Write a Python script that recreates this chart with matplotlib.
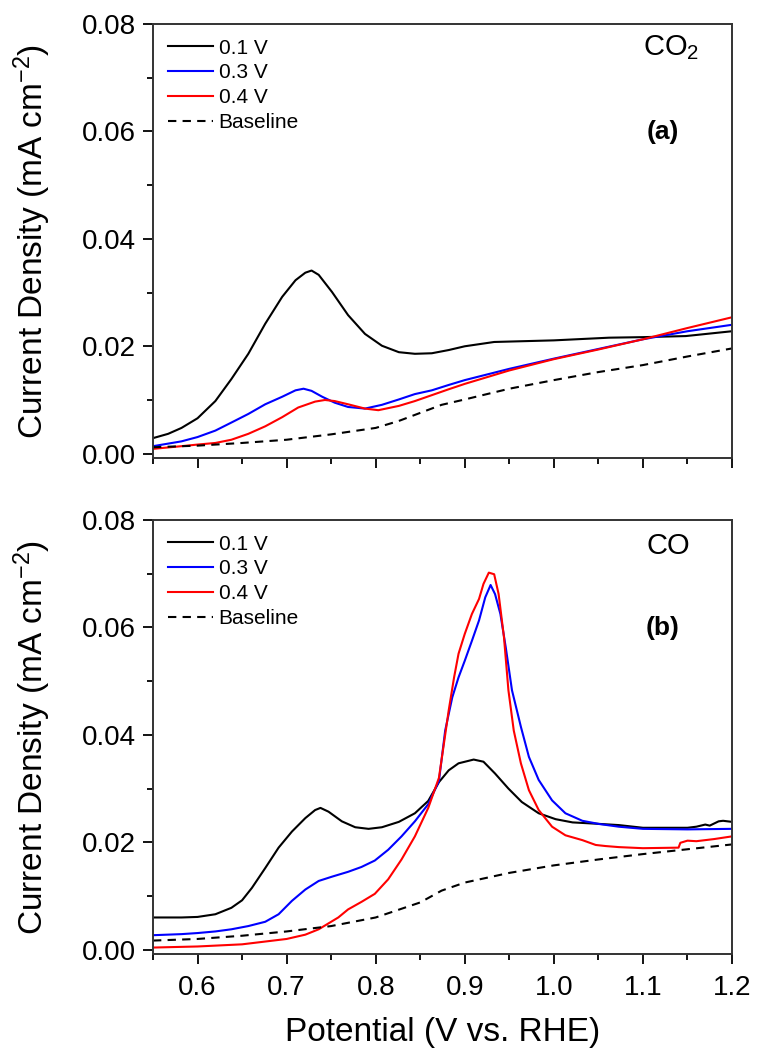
import matplotlib.pyplot as plt
from matplotlib.ticker import MultipleLocator

plt.rcParams['font.family'] = ['Liberation Sans', 'DejaVu Sans']
plt.rcParams['mathtext.default'] = 'regular'

# -----------------------------
# Panel (a): CO2
# -----------------------------
a_x01 = [0.55, 0.567, 0.582, 0.60, 0.62, 0.638, 0.657, 0.676, 0.695, 0.71, 0.721, 0.728,
         0.736, 0.751, 0.769, 0.788, 0.807, 0.826, 0.844, 0.863, 0.882, 0.90, 0.933,
         0.955, 1.00, 1.062, 1.10, 1.148, 1.20]
a_y01 = [0.0029, 0.0037, 0.0048, 0.0066, 0.0098, 0.0139, 0.0186, 0.0242, 0.0292, 0.0323,
         0.0337, 0.0341, 0.0333, 0.0301, 0.0258, 0.0223, 0.0201, 0.0189, 0.0186, 0.0187,
         0.0193, 0.0200, 0.0208, 0.0209, 0.0211, 0.0216, 0.0217, 0.0219, 0.0228]

a_x03 = [0.55, 0.582, 0.60, 0.62, 0.638, 0.657, 0.676, 0.695, 0.71, 0.719, 0.728, 0.74,
         0.754, 0.769, 0.788, 0.807, 0.826, 0.844, 0.863, 0.882, 0.90, 0.95, 1.00, 1.05,
         1.10, 1.15, 1.20]
a_y03 = [0.0014, 0.0023, 0.0031, 0.0043, 0.0058, 0.0074, 0.0092, 0.0106, 0.0118, 0.0121,
         0.0117, 0.0106, 0.0095, 0.0087, 0.0084, 0.0091, 0.0101, 0.0111, 0.0118, 0.0128,
         0.0137, 0.0158, 0.0177, 0.0195, 0.0213, 0.0228, 0.0240]

a_x04 = [0.55, 0.582, 0.60, 0.62, 0.638, 0.657, 0.676, 0.695, 0.713, 0.732, 0.743, 0.754,
         0.769, 0.788, 0.803, 0.826, 0.844, 0.863, 0.882, 0.90, 0.95, 1.00, 1.05, 1.10,
         1.15, 1.20]
a_y04 = [0.0009, 0.0014, 0.0017, 0.0020, 0.0026, 0.0037, 0.0051, 0.0068, 0.0086, 0.0097,
         0.0100, 0.0098, 0.0092, 0.0084, 0.0081, 0.0089, 0.0098, 0.0109, 0.0120, 0.0130,
         0.0155, 0.0176, 0.0194, 0.0213, 0.0234, 0.0254]

a_xb = [0.55, 0.60, 0.65, 0.70, 0.75, 0.80, 0.826, 0.85, 0.874, 0.90, 0.95, 1.00, 1.05,
        1.10, 1.15, 1.20]
a_yb = [0.0012, 0.0015, 0.0020, 0.0026, 0.0036, 0.0048, 0.0061, 0.0076, 0.0091, 0.0101,
        0.0121, 0.0137, 0.0152, 0.0165, 0.0181, 0.0196]

# -----------------------------
# Panel (b): CO
# -----------------------------
b_x01 = [0.55, 0.582, 0.60, 0.62, 0.638, 0.65, 0.661, 0.676, 0.691, 0.706, 0.721, 0.732,
         0.738, 0.747, 0.762, 0.777, 0.792, 0.807, 0.826, 0.844, 0.859, 0.871, 0.882,
         0.893, 0.91, 0.921, 0.934, 0.949, 0.964, 0.983, 1.002, 1.021, 1.043, 1.073,
         1.10, 1.15, 1.16, 1.17, 1.175, 1.185, 1.19, 1.20]
b_y01 = [0.0060, 0.0060, 0.0061, 0.0066, 0.0078, 0.0092, 0.0115, 0.0152, 0.0190, 0.0220,
         0.0245, 0.0260, 0.0264, 0.0257, 0.0239, 0.0228, 0.0225, 0.0228, 0.0238, 0.0254,
         0.0277, 0.0312, 0.0334, 0.0347, 0.0354, 0.0350, 0.0328, 0.0300, 0.0275, 0.0254,
         0.0243, 0.0237, 0.0235, 0.0232, 0.0227, 0.0227, 0.0229, 0.0233, 0.0231, 0.0239,
         0.0240, 0.0238]

b_x03 = [0.55, 0.582, 0.60, 0.62, 0.638, 0.657, 0.676, 0.691, 0.706, 0.721, 0.736, 0.751,
         0.769, 0.784, 0.799, 0.814, 0.829, 0.844, 0.859, 0.871, 0.878, 0.886, 0.893, 0.90,
         0.908, 0.916, 0.923, 0.929, 0.934, 0.94, 0.946, 0.953, 0.963, 0.972, 0.983, 0.998,
         1.013, 1.032, 1.051, 1.073, 1.10, 1.15, 1.20]
b_y03 = [0.0027, 0.0029, 0.0031, 0.0034, 0.0038, 0.0044, 0.0052, 0.0066, 0.0091, 0.0112,
         0.0128, 0.0136, 0.0145, 0.0154, 0.0166, 0.0186, 0.0211, 0.0239, 0.0271, 0.0314,
         0.0408, 0.0470, 0.0507, 0.0538, 0.0575, 0.0613, 0.0656, 0.0679, 0.0662, 0.0625,
         0.0563, 0.0483, 0.0415, 0.0359, 0.0316, 0.0278, 0.0254, 0.0240, 0.0234, 0.0229,
         0.0225, 0.0224, 0.0225]

b_x04 = [0.55, 0.60, 0.65, 0.70, 0.721, 0.736, 0.746, 0.758, 0.769, 0.784, 0.799, 0.814,
         0.829, 0.844, 0.859, 0.871, 0.876, 0.882, 0.888, 0.893, 0.90, 0.908, 0.916,
         0.921, 0.927, 0.933, 0.938, 0.944, 0.949, 0.955, 0.963, 0.972, 0.983, 0.998,
         1.013, 1.032, 1.047, 1.058, 1.073, 1.10, 1.14, 1.142, 1.15, 1.16, 1.18, 1.20]
b_y04 = [0.0004, 0.0006, 0.0010, 0.0020, 0.0028, 0.0038, 0.0048, 0.0060, 0.0075, 0.0089,
         0.0104, 0.0131, 0.0168, 0.0211, 0.0264, 0.0320, 0.0377, 0.0446, 0.0507, 0.0551,
         0.0588, 0.0625, 0.0653, 0.0681, 0.0702, 0.0699, 0.0662, 0.0582, 0.0483, 0.0408,
         0.0347, 0.0297, 0.0260, 0.0229, 0.0213, 0.0204, 0.0195, 0.0193, 0.0191, 0.0189,
         0.0190, 0.0199, 0.0203, 0.0202, 0.0206, 0.0211]

b_xb = [0.55, 0.60, 0.65, 0.70, 0.75, 0.80, 0.85, 0.874, 0.90, 0.95, 1.00, 1.05, 1.10,
        1.15, 1.20]
b_yb = [0.0017, 0.0020, 0.0026, 0.0034, 0.0044, 0.0060, 0.0088, 0.0110, 0.0125, 0.0143,
        0.0157, 0.0168, 0.0178, 0.0187, 0.0196]

labels = ['0.1 V', '0.3 V', '0.4 V', 'Baseline']
panels = [
    dict(series=[(a_x01, a_y01), (a_x03, a_y03), (a_x04, a_y04), (a_xb, a_yb)],
         gas='CO$_2$', tag='(a)', gas_xy=(0.895, 0.945)),
    dict(series=[(b_x01, b_y01), (b_x03, b_y03), (b_x04, b_y04), (b_xb, b_yb)],
         gas='CO', tag='(b)', gas_xy=(0.89, 0.94)),
]
colors = ['black', '#0000ff', '#ff0000', 'black']
styles = ['-', '-', '-', '--']

W, H = 757, 1059
fig = plt.figure(figsize=(W / 100, H / 100), dpi=100)

boxes = [(24, 458), (520, 954)]
left, right = 153, 732

for p, (top, bot) in zip(panels, boxes):
    ax = fig.add_axes([left / W, 1 - bot / H, (right - left) / W, (bot - top) / H])
    for (x, y), c, ls, lab in zip(p['series'], colors, styles, labels):
        if ls == '--':
            ax.plot(x, y, color=c, lw=1.5, label=lab, dashes=(4, 3))
        else:
            ax.plot(x, y, color=c, lw=1.5, label=lab)
    ax.set_xlim(0.55, 1.2)
    ax.set_ylim(-0.0008, 0.08)
    ax.xaxis.set_major_locator(MultipleLocator(0.1))
    ax.xaxis.set_minor_locator(MultipleLocator(0.05))
    ax.yaxis.set_major_locator(MultipleLocator(0.02))
    ax.yaxis.set_minor_locator(MultipleLocator(0.01))
    ax.yaxis.set_major_formatter(plt.FormatStrFormatter('%.2f'))
    ax.xaxis.set_major_formatter(plt.FormatStrFormatter('%.1f'))
    ax.tick_params(which='major', direction='out', length=7, width=1.3, labelsize=20, pad=5)
    ax.tick_params(which='minor', direction='out', length=4, width=1.3)
    ax.tick_params(axis='x', pad=8)
    for s in ax.spines.values():
        s.set_linewidth(1.4)
        s.set_color('#333333')
    ax.set_ylabel('Current Density (mA cm$^{-2}$)', fontsize=24)
    ax.yaxis.set_label_coords(-0.172, 0.5)
    ax.legend(loc='upper left', frameon=False, fontsize=15, handlelength=2.2,
              handletextpad=0.25, labelspacing=0.28, borderaxespad=0.3)
    ax.text(p['gas_xy'][0], p['gas_xy'][1], p['gas'], transform=ax.transAxes,
            fontsize=21, ha='center', va='center')
    ax.text(0.88, 0.752, p['tag'], transform=ax.transAxes, fontsize=19,
            fontweight='bold', ha='center', va='center')
    if top == 24:
        ax.tick_params(labelbottom=False)
    else:
        ax.set_xlabel('Potential (V vs. RHE)', fontsize=24, labelpad=12)

fig.savefig('out.png', dpi=100)
